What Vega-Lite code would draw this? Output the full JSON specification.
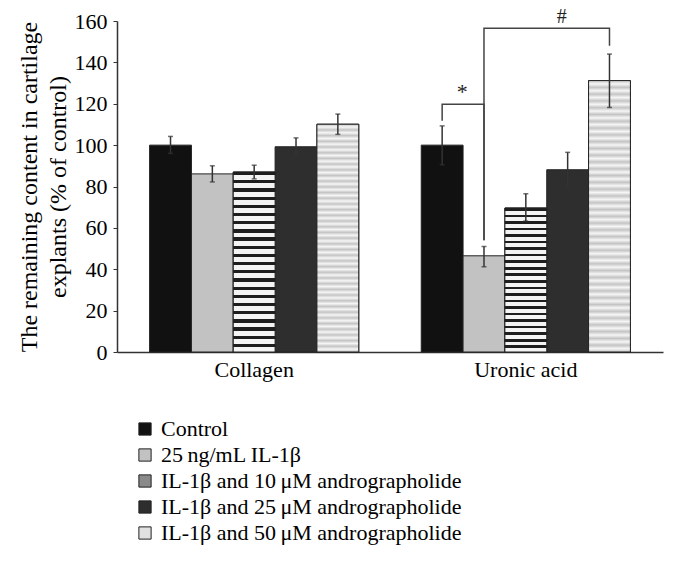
{
  "$schema": "https://vega.github.io/schema/vega-lite/v6.json",
  "width": 546,
  "height": 331,
  "autosize": {"type": "none"},
  "padding": {"left": 117, "top": 21, "right": 16, "bottom": 213},
  "background": "white",
  "config": {
    "view": {"stroke": null},
    "font": "Liberation Serif",
    "axis": {"labelFont": "Liberation Serif", "titleFont": "Liberation Serif", "labelColor": "black", "titleColor": "black", "titleFontWeight": "normal"},
    "legend": {"labelFont": "Liberation Serif"}
  },
  "datasets": {
    "bars": [
      {"group": "Collagen", "treatment": "Control", "mean": 100, "lo": 96, "hi": 104.2},
      {"group": "Collagen", "treatment": "25 ng/mL IL-1β", "mean": 86.1, "lo": 82.2, "hi": 90},
      {"group": "Collagen", "treatment": "IL-1β and 10 μM andrographolide", "mean": 87, "lo": 83.7, "hi": 90.3},
      {"group": "Collagen", "treatment": "IL-1β and 25 μM andrographolide", "mean": 99.2, "lo": 94.8, "hi": 103.5},
      {"group": "Collagen", "treatment": "IL-1β and 50 μM andrographolide", "mean": 110.1, "lo": 105.2, "hi": 115},
      {"group": "Uronic acid", "treatment": "Control", "mean": 100, "lo": 90.5, "hi": 109.3},
      {"group": "Uronic acid", "treatment": "25 ng/mL IL-1β", "mean": 46.5, "lo": 41.2, "hi": 51},
      {"group": "Uronic acid", "treatment": "IL-1β and 10 μM andrographolide", "mean": 69.6, "lo": 63.3, "hi": 76.5},
      {"group": "Uronic acid", "treatment": "IL-1β and 25 μM andrographolide", "mean": 88.1, "lo": 80, "hi": 96.5},
      {"group": "Uronic acid", "treatment": "IL-1β and 50 μM andrographolide", "mean": 131.2, "lo": 118.2, "hi": 144}
    ],
    "brackets": [
      {"seg": "star", "ord": 1, "group": "Uronic acid", "treatment": "Control", "y": 111.8},
      {"seg": "star", "ord": 2, "group": "Uronic acid", "treatment": "Control", "y": 119.8},
      {"seg": "star", "ord": 3, "group": "Uronic acid", "treatment": "25 ng/mL IL-1β", "y": 119.8},
      {"seg": "star", "ord": 4, "group": "Uronic acid", "treatment": "25 ng/mL IL-1β", "y": 54},
      {"seg": "hash", "ord": 1, "group": "Uronic acid", "treatment": "25 ng/mL IL-1β", "y": 54},
      {"seg": "hash", "ord": 2, "group": "Uronic acid", "treatment": "25 ng/mL IL-1β", "y": 156.5},
      {"seg": "hash", "ord": 3, "group": "Uronic acid", "treatment": "IL-1β and 50 μM andrographolide", "y": 156.5},
      {"seg": "hash", "ord": 4, "group": "Uronic acid", "treatment": "IL-1β and 50 μM andrographolide", "y": 148}
    ],
    "labelsStar": [
      {"group": "Uronic acid", "treatment": "Control", "y": 122.5, "label": "*"}
    ],
    "labelsHash": [
      {"group": "Uronic acid", "treatment": "IL-1β and 25 μM andrographolide", "y": 159, "label": "#"}
    ]
  },
  "encoding": {
    "x": {
      "field": "group", "type": "nominal",
      "scale": {"paddingInner": 0.23, "paddingOuter": 0.12},
      "axis": {"title": null, "labelAngle": 0, "labelFontSize": 22, "ticks": false, "labelPadding": 7, "domainColor": "#333", "domainWidth": 1.5}
    },
    "xOffset": {
      "field": "treatment", "type": "nominal",
      "sort": ["Control", "25 ng/mL IL-1β", "IL-1β and 10 μM andrographolide", "IL-1β and 25 μM andrographolide", "IL-1β and 50 μM andrographolide"],
      "scale": {"paddingInner": 0, "paddingOuter": 0}
    }
  },
  "layer": [
    {
      "data": {"name": "bars"},
      "mark": {"type": "bar", "stroke": "#222", "strokeWidth": 1},
      "encoding": {
        "y": {
          "field": "mean", "type": "quantitative",
          "scale": {"domain": [0, 160], "nice": false},
          "axis": {
            "values": [0, 20, 40, 60, 80, 100, 120, 140, 160],
            "grid": false,
            "labelFontSize": 22,
            "tickSize": 4, "tickColor": "#333",
            "labelPadding": 6,
            "domainColor": "#333", "domainWidth": 1.5,
            "title": ["The remaining content in cartilage", "explants (% of control)"],
            "titleFontSize": 24,
            "titleLineHeight": 29,
            "titlePadding": 4
          }
        },
        "fill": {
          "field": "treatment", "type": "nominal",
          "sort": ["Control", "25 ng/mL IL-1β", "IL-1β and 10 μM andrographolide", "IL-1β and 25 μM andrographolide", "IL-1β and 50 μM andrographolide"],
          "scale": {"range": ["#111111", "#c2c2c2", "#8a8a8a", "#2e2e2e", "#e0e0e0"]},
          "legend": {
            "title": null,
            "orient": "none",
            "legendX": 17,
            "legendY": 397,
            "symbolType": "square",
            "symbolSize": 150,
            "symbolStrokeColor": "#222",
            "symbolStrokeWidth": 1,
            "labelFontSize": 22,
            "labelColor": "black",
            "labelLimit": 450,
            "labelOffset": 5,
            "rowPadding": 4,
            "labelExpr": "replace(replace(datum.label, '25 ng', '25\u2009ng'), ' μM', '\u2009μM')"
          }
        }
      }
    },
    {
      "data": {"name": "bars"},
      "transform": [{"filter": "datum.treatment === 'IL-1β and 10 μM andrographolide'"}],
      "mark": {"type": "bar", "stroke": "#222", "strokeWidth": 1,
        "fill": {"gradient": "linear", "x1": 0, "y1": 0, "x2": 0, "y2": 1, "stops": [
          {"offset": 0, "color": "#1e1e1e"}, {"offset": 0.01818, "color": "#1e1e1e"}, {"offset": 0.01818, "color": "#f4f4f4"}, {"offset": 0.04545, "color": "#f4f4f4"},
          {"offset": 0.04545, "color": "#1e1e1e"}, {"offset": 0.06364, "color": "#1e1e1e"}, {"offset": 0.06364, "color": "#f4f4f4"}, {"offset": 0.09091, "color": "#f4f4f4"},
          {"offset": 0.09091, "color": "#1e1e1e"}, {"offset": 0.10909, "color": "#1e1e1e"}, {"offset": 0.10909, "color": "#f4f4f4"}, {"offset": 0.13636, "color": "#f4f4f4"},
          {"offset": 0.13636, "color": "#1e1e1e"}, {"offset": 0.15455, "color": "#1e1e1e"}, {"offset": 0.15455, "color": "#f4f4f4"}, {"offset": 0.18182, "color": "#f4f4f4"},
          {"offset": 0.18182, "color": "#1e1e1e"}, {"offset": 0.2, "color": "#1e1e1e"}, {"offset": 0.2, "color": "#f4f4f4"}, {"offset": 0.22727, "color": "#f4f4f4"},
          {"offset": 0.22727, "color": "#1e1e1e"}, {"offset": 0.24545, "color": "#1e1e1e"}, {"offset": 0.24545, "color": "#f4f4f4"}, {"offset": 0.27273, "color": "#f4f4f4"},
          {"offset": 0.27273, "color": "#1e1e1e"}, {"offset": 0.29091, "color": "#1e1e1e"}, {"offset": 0.29091, "color": "#f4f4f4"}, {"offset": 0.31818, "color": "#f4f4f4"},
          {"offset": 0.31818, "color": "#1e1e1e"}, {"offset": 0.33636, "color": "#1e1e1e"}, {"offset": 0.33636, "color": "#f4f4f4"}, {"offset": 0.36364, "color": "#f4f4f4"},
          {"offset": 0.36364, "color": "#1e1e1e"}, {"offset": 0.38182, "color": "#1e1e1e"}, {"offset": 0.38182, "color": "#f4f4f4"}, {"offset": 0.40909, "color": "#f4f4f4"},
          {"offset": 0.40909, "color": "#1e1e1e"}, {"offset": 0.42727, "color": "#1e1e1e"}, {"offset": 0.42727, "color": "#f4f4f4"}, {"offset": 0.45455, "color": "#f4f4f4"},
          {"offset": 0.45455, "color": "#1e1e1e"}, {"offset": 0.47273, "color": "#1e1e1e"}, {"offset": 0.47273, "color": "#f4f4f4"}, {"offset": 0.5, "color": "#f4f4f4"},
          {"offset": 0.5, "color": "#1e1e1e"}, {"offset": 0.51818, "color": "#1e1e1e"}, {"offset": 0.51818, "color": "#f4f4f4"}, {"offset": 0.54545, "color": "#f4f4f4"},
          {"offset": 0.54545, "color": "#1e1e1e"}, {"offset": 0.56364, "color": "#1e1e1e"}, {"offset": 0.56364, "color": "#f4f4f4"}, {"offset": 0.59091, "color": "#f4f4f4"},
          {"offset": 0.59091, "color": "#1e1e1e"}, {"offset": 0.60909, "color": "#1e1e1e"}, {"offset": 0.60909, "color": "#f4f4f4"}, {"offset": 0.63636, "color": "#f4f4f4"},
          {"offset": 0.63636, "color": "#1e1e1e"}, {"offset": 0.65455, "color": "#1e1e1e"}, {"offset": 0.65455, "color": "#f4f4f4"}, {"offset": 0.68182, "color": "#f4f4f4"},
          {"offset": 0.68182, "color": "#1e1e1e"}, {"offset": 0.7, "color": "#1e1e1e"}, {"offset": 0.7, "color": "#f4f4f4"}, {"offset": 0.72727, "color": "#f4f4f4"},
          {"offset": 0.72727, "color": "#1e1e1e"}, {"offset": 0.74545, "color": "#1e1e1e"}, {"offset": 0.74545, "color": "#f4f4f4"}, {"offset": 0.77273, "color": "#f4f4f4"},
          {"offset": 0.77273, "color": "#1e1e1e"}, {"offset": 0.79091, "color": "#1e1e1e"}, {"offset": 0.79091, "color": "#f4f4f4"}, {"offset": 0.81818, "color": "#f4f4f4"},
          {"offset": 0.81818, "color": "#1e1e1e"}, {"offset": 0.83636, "color": "#1e1e1e"}, {"offset": 0.83636, "color": "#f4f4f4"}, {"offset": 0.86364, "color": "#f4f4f4"},
          {"offset": 0.86364, "color": "#1e1e1e"}, {"offset": 0.88182, "color": "#1e1e1e"}, {"offset": 0.88182, "color": "#f4f4f4"}, {"offset": 0.90909, "color": "#f4f4f4"},
          {"offset": 0.90909, "color": "#1e1e1e"}, {"offset": 0.92727, "color": "#1e1e1e"}, {"offset": 0.92727, "color": "#f4f4f4"}, {"offset": 0.95455, "color": "#f4f4f4"},
          {"offset": 0.95455, "color": "#1e1e1e"}, {"offset": 0.97273, "color": "#1e1e1e"}, {"offset": 0.97273, "color": "#f4f4f4"}, {"offset": 1, "color": "#f4f4f4"}
        ]}
      },
      "encoding": {
        "y": {"field": "mean", "type": "quantitative"}
      }
    },
    {
      "data": {"name": "bars"},
      "transform": [{"filter": "datum.treatment === 'IL-1β and 50 μM andrographolide'"}],
      "mark": {"type": "bar", "stroke": "#222", "strokeWidth": 1,
        "fill": {"gradient": "linear", "x1": 0, "y1": 0, "x2": 0, "y2": 1, "stops": [
          {"offset": 0, "color": "#c4c4c4"}, {"offset": 0.0125, "color": "#f6f6f6"}, {"offset": 0.025, "color": "#c4c4c4"}, {"offset": 0.0375, "color": "#f6f6f6"},
          {"offset": 0.05, "color": "#c4c4c4"}, {"offset": 0.0625, "color": "#f6f6f6"}, {"offset": 0.075, "color": "#c4c4c4"}, {"offset": 0.0875, "color": "#f6f6f6"},
          {"offset": 0.1, "color": "#c4c4c4"}, {"offset": 0.1125, "color": "#f6f6f6"}, {"offset": 0.125, "color": "#c4c4c4"}, {"offset": 0.1375, "color": "#f6f6f6"},
          {"offset": 0.15, "color": "#c4c4c4"}, {"offset": 0.1625, "color": "#f6f6f6"}, {"offset": 0.175, "color": "#c4c4c4"}, {"offset": 0.1875, "color": "#f6f6f6"},
          {"offset": 0.2, "color": "#c4c4c4"}, {"offset": 0.2125, "color": "#f6f6f6"}, {"offset": 0.225, "color": "#c4c4c4"}, {"offset": 0.2375, "color": "#f6f6f6"},
          {"offset": 0.25, "color": "#c4c4c4"}, {"offset": 0.2625, "color": "#f6f6f6"}, {"offset": 0.275, "color": "#c4c4c4"}, {"offset": 0.2875, "color": "#f6f6f6"},
          {"offset": 0.3, "color": "#c4c4c4"}, {"offset": 0.3125, "color": "#f6f6f6"}, {"offset": 0.325, "color": "#c4c4c4"}, {"offset": 0.3375, "color": "#f6f6f6"},
          {"offset": 0.35, "color": "#c4c4c4"}, {"offset": 0.3625, "color": "#f6f6f6"}, {"offset": 0.375, "color": "#c4c4c4"}, {"offset": 0.3875, "color": "#f6f6f6"},
          {"offset": 0.4, "color": "#c4c4c4"}, {"offset": 0.4125, "color": "#f6f6f6"}, {"offset": 0.425, "color": "#c4c4c4"}, {"offset": 0.4375, "color": "#f6f6f6"},
          {"offset": 0.45, "color": "#c4c4c4"}, {"offset": 0.4625, "color": "#f6f6f6"}, {"offset": 0.475, "color": "#c4c4c4"}, {"offset": 0.4875, "color": "#f6f6f6"},
          {"offset": 0.5, "color": "#c4c4c4"}, {"offset": 0.5125, "color": "#f6f6f6"}, {"offset": 0.525, "color": "#c4c4c4"}, {"offset": 0.5375, "color": "#f6f6f6"},
          {"offset": 0.55, "color": "#c4c4c4"}, {"offset": 0.5625, "color": "#f6f6f6"}, {"offset": 0.575, "color": "#c4c4c4"}, {"offset": 0.5875, "color": "#f6f6f6"},
          {"offset": 0.6, "color": "#c4c4c4"}, {"offset": 0.6125, "color": "#f6f6f6"}, {"offset": 0.625, "color": "#c4c4c4"}, {"offset": 0.6375, "color": "#f6f6f6"},
          {"offset": 0.65, "color": "#c4c4c4"}, {"offset": 0.6625, "color": "#f6f6f6"}, {"offset": 0.675, "color": "#c4c4c4"}, {"offset": 0.6875, "color": "#f6f6f6"},
          {"offset": 0.7, "color": "#c4c4c4"}, {"offset": 0.7125, "color": "#f6f6f6"}, {"offset": 0.725, "color": "#c4c4c4"}, {"offset": 0.7375, "color": "#f6f6f6"},
          {"offset": 0.75, "color": "#c4c4c4"}, {"offset": 0.7625, "color": "#f6f6f6"}, {"offset": 0.775, "color": "#c4c4c4"}, {"offset": 0.7875, "color": "#f6f6f6"},
          {"offset": 0.8, "color": "#c4c4c4"}, {"offset": 0.8125, "color": "#f6f6f6"}, {"offset": 0.825, "color": "#c4c4c4"}, {"offset": 0.8375, "color": "#f6f6f6"},
          {"offset": 0.85, "color": "#c4c4c4"}, {"offset": 0.8625, "color": "#f6f6f6"}, {"offset": 0.875, "color": "#c4c4c4"}, {"offset": 0.8875, "color": "#f6f6f6"},
          {"offset": 0.9, "color": "#c4c4c4"}, {"offset": 0.9125, "color": "#f6f6f6"}, {"offset": 0.925, "color": "#c4c4c4"}, {"offset": 0.9375, "color": "#f6f6f6"},
          {"offset": 0.95, "color": "#c4c4c4"}, {"offset": 0.9625, "color": "#f6f6f6"}, {"offset": 0.975, "color": "#c4c4c4"}, {"offset": 0.9875, "color": "#f6f6f6"},
          {"offset": 1, "color": "#c4c4c4"}
        ]}
      },
      "encoding": {
        "y": {"field": "mean", "type": "quantitative"}
      }
    },
    {
      "data": {"name": "bars"},
      "mark": {"type": "rule", "color": "#333", "strokeWidth": 1.5},
      "encoding": {
        "y": {"field": "lo", "type": "quantitative"},
        "y2": {"field": "hi"}
      }
    },
    {
      "data": {"name": "bars"},
      "mark": {"type": "tick", "color": "#333", "size": 5, "thickness": 1.5, "orient": "horizontal"},
      "encoding": {"y": {"field": "hi", "type": "quantitative"}}
    },
    {
      "data": {"name": "bars"},
      "mark": {"type": "tick", "color": "#333", "size": 5, "thickness": 1.5, "orient": "horizontal"},
      "encoding": {"y": {"field": "lo", "type": "quantitative"}}
    },
    {
      "data": {"name": "brackets"},
      "mark": {"type": "line", "color": "#444", "strokeWidth": 1.5, "interpolate": "linear"},
      "encoding": {
        "y": {"field": "y", "type": "quantitative"},
        "detail": {"field": "seg"},
        "order": {"field": "ord"}
      }
    },
    {
      "data": {"name": "labelsStar"},
      "mark": {"type": "text", "fontSize": 22, "color": "#222", "baseline": "alphabetic", "dx": 20},
      "encoding": {
        "y": {"field": "y", "type": "quantitative"},
        "text": {"field": "label"}
      }
    },
    {
      "data": {"name": "labelsHash"},
      "mark": {"type": "text", "fontSize": 20, "color": "#222", "baseline": "alphabetic", "dx": -6},
      "encoding": {
        "y": {"field": "y", "type": "quantitative"},
        "text": {"field": "label"}
      }
    }
  ]
}
